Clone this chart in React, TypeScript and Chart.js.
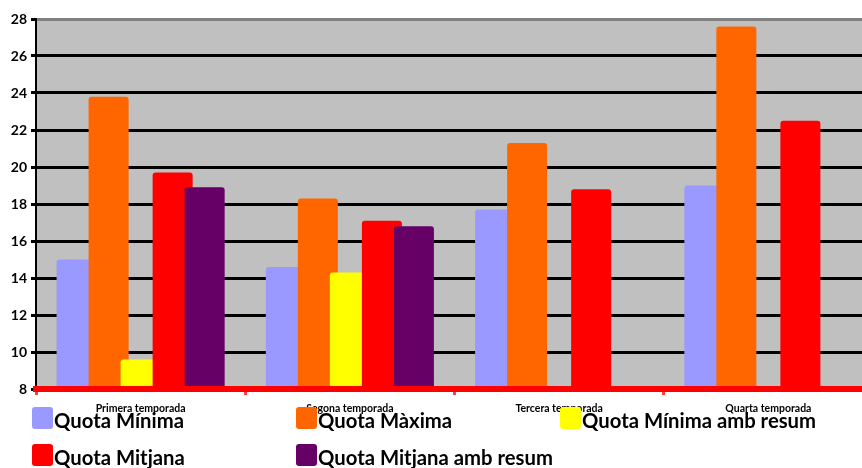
import React, { useEffect, useRef } from 'react';
import { Chart, registerables } from 'chart.js';

Chart.register(...registerables);

const categories = ['Primera temporada', 'Segona temporada', 'Tercera temporada', 'Quarta temporada'];
const seriesNames = ['Quota Mínima', 'Quota Màxima', 'Quota Mínima amb resum', 'Quota Mitjana', 'Quota Mitjana amb resum'];
const quotaMinima = [15.0, 14.6, 17.7, 19.0];
const quotaMaxima = [23.8, 18.3, 21.3, 27.6];
const quotaMinimaResum: (number | null)[] = [9.6, 14.3, null, null];
const quotaMitjana = [19.7, 17.1, 18.8, 22.5];
const quotaMitjanaResum: (number | null)[] = [18.9, 16.8, null, null];
const yMin = 8;
const yMax = 28;
const yStep = 2;

const seriesValues = [quotaMinima, quotaMaxima, quotaMinimaResum, quotaMitjana, quotaMitjanaResum];
const seriesColors = ['#9999FF', '#FF6600', '#FFFF00', '#FF0000', '#660066'];

const FONT = 'Lato, "Open Sans", "DejaVu Sans", sans-serif';

const plotBg = {
  id: 'plotBg',
  beforeDraw(chart: any) {
    const { ctx, chartArea: a } = chart;
    ctx.save();
    ctx.fillStyle = '#C0C0C0';
    ctx.fillRect(a.left, a.top, a.right - a.left, a.bottom - a.top);
    ctx.restore();
  },
};

// draw datasets in ascending index order so later series overlap earlier ones
const ascendingDraw = {
  id: 'ascendingDraw',
  beforeDatasetsDraw(chart: any) {
    const { ctx, chartArea: a } = chart;
    ctx.save();
    ctx.beginPath();
    ctx.rect(a.left, a.top - 5, a.right - a.left, a.bottom - a.top + 5);
    ctx.clip();
    for (let i = 0; i < chart.data.datasets.length; i++) {
      const meta = chart.getDatasetMeta(i);
      if (meta.visible !== false) meta.controller.draw();
    }
    ctx.restore();
    return false;
  },
};

export default function App() {
  const ref = useRef<HTMLCanvasElement | null>(null);

  useEffect(() => {
    document.body.style.margin = '0';
    const canvas = ref.current!;
    const chart = new Chart(canvas, {
      type: 'bar',
      data: {
        labels: categories,
        datasets: seriesNames.map((name, i) => ({
          label: name,
          data: seriesValues[i] as any,
          backgroundColor: seriesColors[i],
          borderWidth: 0,
          borderRadius: 3,
          categoryPercentage: 0.765,
          barPercentage: 1.25,
        })),
      },
      options: {
        responsive: false,
        animation: false,
        devicePixelRatio: 1,
        layout: { padding: { top: 19, left: 0, right: 0, bottom: 0 } },
        plugins: {
          legend: { display: false },
          tooltip: { enabled: false },
        },
        scales: {
          x: {
            offset: true,
            border: { color: '#FF0000', width: 6, z: 1 },
            grid: {
              offset: true,
              drawOnChartArea: false,
              drawTicks: true,
              color: '#FF4040',
              tickColor: '#FF4040',
              lineWidth: 3,
              tickLength: 6,
            },
            ticks: {
              color: '#000',
              padding: 7,
              font: { family: FONT, size: 10.5, weight: 'bold' },
              maxRotation: 0,
              autoSkip: false,
            },
            afterFit(scale: any) {
              scale.height = 79;
            },
          },
          y: {
            min: yMin,
            max: yMax,
            border: { color: '#000', width: 2 },
            grid: {
              color: (c: any) => (c.tick && c.tick.value === yMax ? '#808080' : '#000'),
              tickColor: '#000',
              lineWidth: 3,
              tickLength: 5,
            },
            ticks: {
              stepSize: yStep,
              color: '#000',
              padding: 4,
              font: { family: FONT, size: 14, weight: 'bold' },
            },
            afterFit(scale: any) {
              scale.width = 36;
            },
          },
        },
      },
      plugins: [plotBg, ascendingDraw],
    });
    return () => chart.destroy();
  }, []);

  return (
    <div style={{ position: 'fixed', left: 0, top: 0, width: 862, height: 468, overflow: 'hidden', background: '#fff' }}>
      <canvas ref={ref} width={873} height={468} style={{ display: 'block', width: 873, height: 468 }} />
      {seriesNames.map((name, i) => {
        const col = i % 3;
        const row = Math.floor(i / 3);
        const left = 32 + col * 264;
        const top = 407 + row * 37;
        return (
          <div key={name}>
            <div
              style={{
                position: 'absolute',
                left,
                top,
                width: 21,
                height: 22,
                borderRadius: 3,
                background: seriesColors[i],
              }}
            />
            <div
              style={{
                position: 'absolute',
                left: left + 22,
                top: top + 1,
                fontFamily: FONT,
                fontWeight: 'bold',
                fontSize: 20.3,
                lineHeight: 'normal',
                color: '#000',
                whiteSpace: 'nowrap',
              }}
            >
              {name}
            </div>
          </div>
        );
      })}
    </div>
  );
}
